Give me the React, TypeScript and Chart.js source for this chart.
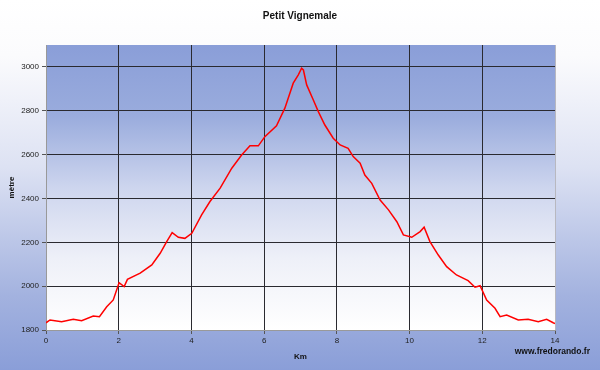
import React, { useEffect, useRef } from "react";
import { Chart, registerables } from "chart.js";

Chart.register(...registerables);

const chartTitle = "Petit Vignemale";
const xTitle = "Km";
const yTitle = "mètre";
const siteLabel = "www.fredorando.fr";

const distanceKm = [
  0, 0.11, 0.43, 0.75, 0.98, 1.3, 1.47, 1.67, 1.85, 2.01, 2.15, 2.24, 2.59, 2.91, 3.14, 3.32, 3.47, 3.64, 3.82,
  4.01, 4.28, 4.51, 4.79, 5.11, 5.38, 5.61, 5.84, 6.02, 6.34, 6.57, 6.8, 6.94, 7.03, 7.08, 7.17, 7.35, 7.49,
  7.67, 7.9, 8.09, 8.31, 8.45, 8.64, 8.77, 8.96, 9.19, 9.42, 9.65, 9.83, 10.06, 10.29, 10.4, 10.56, 10.79,
  11.02, 11.29, 11.61, 11.8, 11.94, 12.12, 12.35, 12.49, 12.67, 12.99, 13.26, 13.54, 13.77, 13.95, 14,
];
const elevationM = [
  1833, 1846, 1838, 1849, 1842, 1864, 1861, 1906, 1937, 2016, 1998, 2031, 2059, 2097, 2150, 2203, 2244, 2223, 2218,
  2241, 2325, 2386, 2447, 2538, 2598, 2640, 2640, 2682, 2731, 2812, 2926, 2964, 2994, 2986, 2918, 2850, 2796,
  2735, 2675, 2644, 2629, 2591, 2561, 2507, 2469, 2393, 2348, 2294, 2234, 2223, 2249, 2269, 2203, 2142,
  2089, 2051, 2025, 1995, 2002, 1937, 1899, 1861, 1868, 1846, 1849, 1838, 1849, 1833, 1830,
];
const yTicks = [1800, 2000, 2200, 2400, 2600, 2800, 3000];
const xTicks = [0, 2, 4, 6, 8, 10, 12, 14];

const FONT = "'Liberation Sans', Arial, sans-serif";

const bgPlugin = {
  id: "bgPlugin",
  beforeDraw(chart: any) {
    const { ctx, width, height, chartArea } = chart;
    ctx.save();
    const g = ctx.createLinearGradient(0, 0, 0, height);
    g.addColorStop(0, "#ffffff");
    g.addColorStop(0.15, "#fbfbfd");
    g.addColorStop(0.45, "#dde2f3");
    g.addColorStop(0.8, "#a3b2df");
    g.addColorStop(1, "#8a9ed8");
    ctx.fillStyle = g;
    ctx.fillRect(0, 0, width, height);
    const { left, top, right, bottom } = chartArea;
    const g2 = ctx.createLinearGradient(0, top, 0, bottom);
    g2.addColorStop(0, "#8a9ed8");
    g2.addColorStop(0.25, "#9aacdd");
    g2.addColorStop(0.5, "#cdd5ee");
    g2.addColorStop(0.75, "#eef0f8");
    g2.addColorStop(1, "#ffffff");
    ctx.fillStyle = g2;
    ctx.fillRect(left, top, right - left, bottom - top);
    ctx.restore();
  },
  afterDraw(chart: any) {
    const { ctx } = chart;
    ctx.save();
    ctx.fillStyle = "#111";
    ctx.textBaseline = "middle";
    ctx.font = `bold 10px ${FONT}`;
    ctx.textAlign = "center";
    ctx.fillText(chartTitle, 300, 16);
    ctx.font = `bold 8.5px ${FONT}`;
    ctx.textAlign = "right";
    ctx.fillText(siteLabel, 590, 352);
    ctx.strokeStyle = "#b8b8c0";
    ctx.lineWidth = 1;
    const { right, top, bottom } = chart.chartArea;
    ctx.beginPath();
    ctx.moveTo(right + 0.5, top);
    ctx.lineTo(right + 0.5, bottom);
    ctx.stroke();
    ctx.restore();
  },
};

export default function App() {
  const ref = useRef<HTMLCanvasElement>(null);
  useEffect(() => {
    document.body.style.margin = "0";
    const points = distanceKm.map((x, i) => ({ x, y: elevationM[i] }));
    const chart = new Chart(ref.current!, {
      type: "line",
      data: {
        datasets: [
          {
            data: points,
            borderColor: "#ff0000",
            borderWidth: 1.5,
            pointRadius: 0,
            tension: 0,
            fill: false,
          },
        ],
      },
      options: {
        animation: false,
        responsive: false,
        layout: { padding: { left: 0, right: 45, top: 45, bottom: 0 } },
        plugins: {
          legend: { display: false },
          tooltip: { enabled: false },
          title: { display: false },
        },
        scales: {
          x: {
            type: "linear",
            min: 0,
            max: 14,
            afterBuildTicks: (s: any) => {
              s.ticks = xTicks.map((v) => ({ value: v }));
            },
            afterFit: (s: any) => {
              s.height = 40;
            },
            ticks: {
              color: "#222",
              font: { family: FONT, size: 8 },
              padding: 2,
              maxRotation: 0,
              callback: (v: any) => String(v),
            },
            grid: { color: "#2a2a30", lineWidth: 1, tickLength: 4, tickColor: "#555" },
            border: { color: "#999", width: 1 },
            title: {
              display: true,
              text: xTitle,
              color: "#111",
              font: { family: FONT, size: 8, weight: "bold" },
              padding: { top: 0, bottom: 8 },
            },
          },
          y: {
            type: "linear",
            min: 1800,
            max: 3100,
            afterBuildTicks: (s: any) => {
              s.ticks = yTicks.map((v) => ({ value: v }));
            },
            afterFit: (s: any) => {
              s.width = 46;
            },
            ticks: {
              color: "#222",
              font: { family: FONT, size: 8 },
              padding: 3,
              callback: (v: any) => String(v),
            },
            grid: { color: "#2a2a30", lineWidth: 1, tickLength: 4, tickColor: "#555" },
            border: { color: "#999", width: 1 },
            title: {
              display: true,
              text: yTitle,
              color: "#111",
              font: { family: FONT, size: 8, weight: "bold" },
              padding: { top: 7, bottom: 0 },
            },
          },
        },
      },
      plugins: [bgPlugin],
    });
    return () => chart.destroy();
  }, []);
  return (
    <div style={{ width: 600, height: 370 }}>
      <canvas ref={ref} width={600} height={370} style={{ display: "block" }} />
    </div>
  );
}
